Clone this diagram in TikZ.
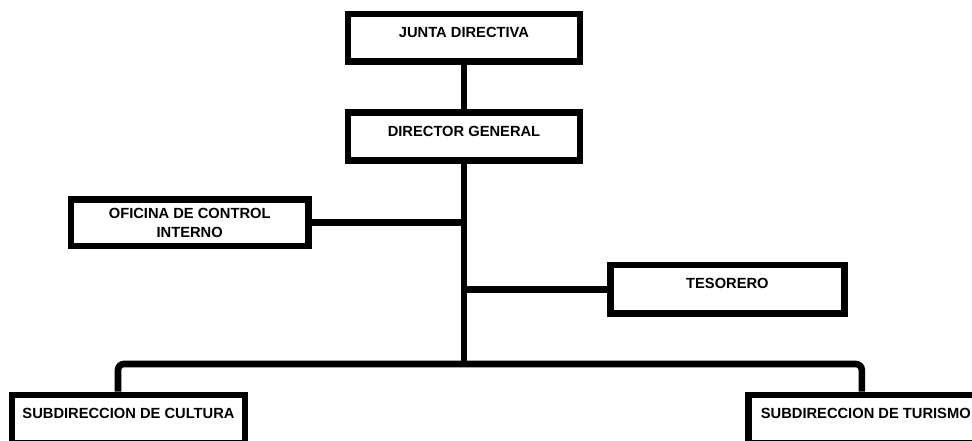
\documentclass[tikz,border=0pt]{standalone}
\usepackage{fontspec}
\setmainfont{Liberation Sans}
\begin{document}
\begin{tikzpicture}[x=1pt, y=-1pt,
    caja/.style = {draw, line width=6.6pt, align=center, inner sep=0pt,
      minimum width=233pt, minimum height=47.5pt,
      font=\bfseries\fontsize{14.7}{18.7}\selectfont},
    una linea/.style = {text height=10.5pt, text depth=11.4pt},
    conector/.style = {line width=6.6pt}]
  \useasboundingbox (0,0) rectangle (972,440);
  \clip (0,0) rectangle (972,440);
  % cajas
  \node[caja, una linea, minimum width=232pt] (junta) at (464,37.75) {JUNTA DIRECTIVA};
  \node[caja, una linea, minimum width=232pt] (director) at (464,136.5) {DIRECTOR GENERAL};
  \node[caja, minimum width=237.3pt, minimum height=46.7pt] (oficina) at (189.7,222.7)
    {OFICINA DE CONTROL\\INTERNO};
  \node[caja, una linea, minimum width=234.2pt, minimum height=48.3pt] (tesorero) at (727.4,289.2) {TESORERO};
  \node[caja, una linea, minimum height=48pt] (cultura) at (128.5,419) {SUBDIRECCION DE CULTURA};
  \node[caja, una linea, minimum width=235pt, minimum height=48pt] (turismo) at (865.8,419) {SUBDIRECCION DE TURISMO};
  \coordinate (bus) at (464,364);
  % lineas
  \draw[conector] (junta) -- (director);
  \draw[conector] (director) -- (bus);
  \draw[conector] (oficina.east) -- (oficina.east -| bus);
  \draw[conector] (tesorero.west) -- (tesorero.west -| bus);
  \draw[conector, rounded corners=6pt] ([xshift=-10.5pt]cultura.north) |- (bus)
    -| ([xshift=-4pt]turismo.north);
\end{tikzpicture}
\end{document}
